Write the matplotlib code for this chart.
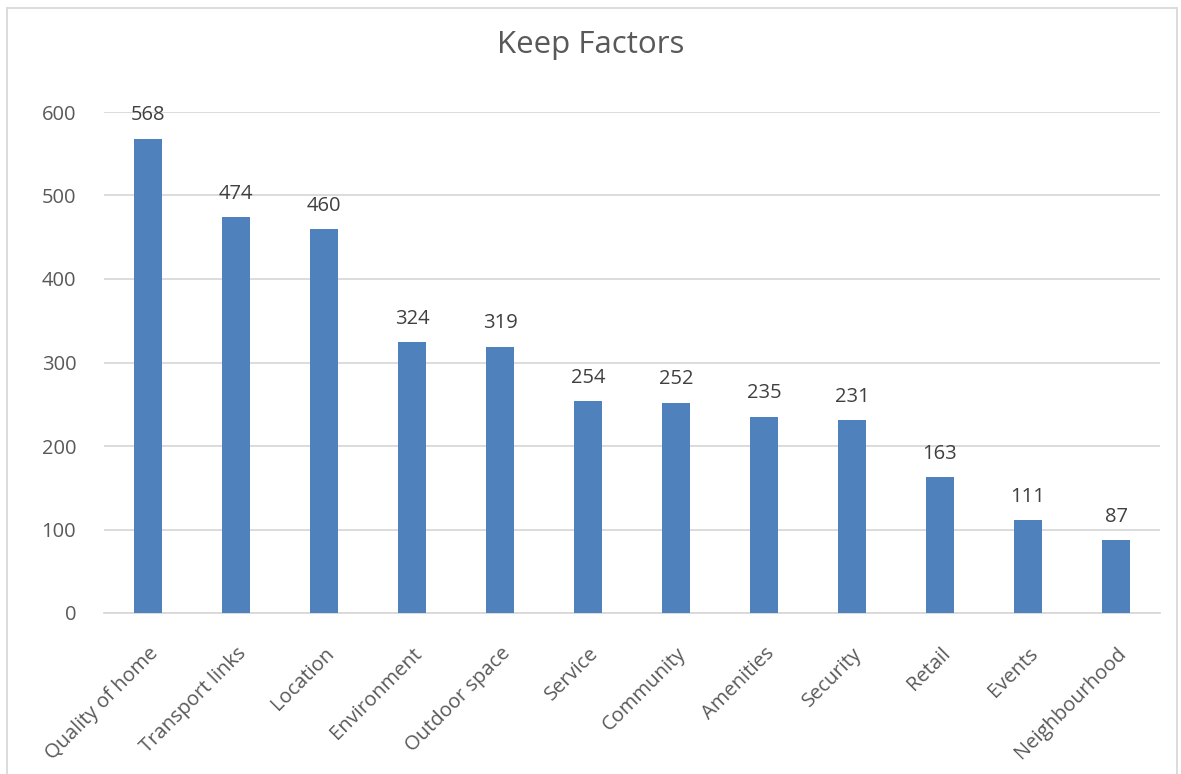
import matplotlib
matplotlib.use("Agg")
import matplotlib.pyplot as plt
from matplotlib.patches import Rectangle

categories = ["Quality of home", "Transport links", "Location", "Environment",
              "Outdoor space", "Service", "Community", "Amenities", "Security",
              "Retail", "Events", "Neighbourhood"]
values = [568, 474, 460, 324, 319, 254, 252, 235, 231, 163, 111, 87]
yticks = [0, 100, 200, 300, 400, 500, 600]

text_col = "#595959"
grid_col = "#d9d9d9"
bar_col = "#4f81bd"

plt.rcParams['font.family'] = ['Open Sans', 'DejaVu Sans']

fig = plt.figure(figsize=(11.81, 7.74), dpi=100)
ax = fig.add_axes([104/1181, 1-613/774, (1160-104)/1181, (613-112)/774])

x = range(len(categories))
bars = ax.bar(x, values, width=0.32, color=bar_col, zorder=3)
for b, v in zip(bars, values):
    ax.text(b.get_x() + b.get_width()/2, v + 16, str(v), ha="center", va="bottom",
            fontsize=14.5, color="#404040")

ax.set_xlim(-0.5, len(categories) - 0.5)
ax.set_ylim(0, 600)
ax.set_yticks(yticks)
ax.set_yticklabels([str(t) for t in yticks], fontsize=14.5, color=text_col)
ax.set_xticks(list(x))
ax.set_xticklabels(categories, rotation=45, ha="right", rotation_mode="anchor",
                   fontsize=14.5, color=text_col)
ax.tick_params(axis="both", length=0)
ax.tick_params(axis="y", pad=20)
ax.tick_params(axis="x", pad=22)
ax.yaxis.grid(True, color=grid_col, linewidth=1.3, zorder=0)
ax.set_axisbelow(True)
for s in ["top", "right", "left"]:
    ax.spines[s].set_visible(False)
ax.spines["bottom"].set_color(grid_col)
ax.spines["bottom"].set_linewidth(1.3)

fig.text(0.5, 1 - 45/774, "Keep Factors", ha="center", va="center",
         fontsize=22.5, color=text_col)

# outer chart border
fig.patches.append(Rectangle((7/1181, -0.01), (1177-7)/1181, 1 - 8/774 + 0.01,
                             transform=fig.transFigure, fill=False,
                             edgecolor=grid_col, linewidth=1.3))

fig.savefig("out.png", dpi=100)
